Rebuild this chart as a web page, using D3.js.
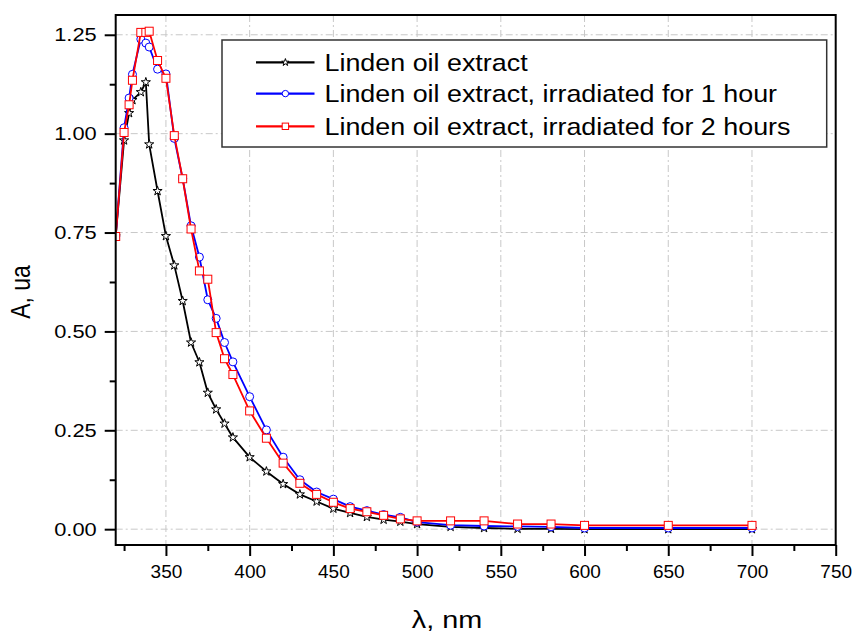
<!DOCTYPE html>
<html>
<head>
<meta charset="utf-8">
<script src="https://cdn.jsdelivr.net/npm/d3@7"></script>
<style>
  body { margin: 0; background: #fff; }
  svg { display: block; }
</style>
</head>
<body>
<div id="chart"></div>
<script>
// wavelengths (nm) measured for the three spectra
const wavelengths = [320, 325, 328, 330, 335, 338, 340, 345, 350, 355, 360, 365, 370, 375, 380, 385, 390,
    400, 410, 420, 430, 440, 450, 460, 470, 480, 490, 500, 520, 540, 560, 580, 600, 650, 700]

// absorbance of the plain extract
const absExtract = [0.74, 0.983, 1.052, 1.085, 1.105, 1.13, 0.973, 0.855, 0.741, 0.667, 0.577, 0.472, 0.422, 0.345, 0.303, 0.267, 0.232,
    0.182, 0.146, 0.114, 0.088, 0.070, 0.052, 0.041, 0.031, 0.024, 0.019, 0.013, 0.006, 0.003, 0.001, 0.001, 0.0, 0.0, 0.0]

// absorbance after 1 hour of irradiation
const absIrr1h = [0.74, 1.015, 1.09, 1.15, 1.239, 1.229, 1.219, 1.163, 1.151, 0.988, 0.886, 0.767, 0.688, 0.580, 0.533, 0.472, 0.423,
    0.335, 0.251, 0.182, 0.125, 0.094, 0.076, 0.057, 0.047, 0.037, 0.030, 0.018, 0.010, 0.008, 0.007, 0.006, 0.003, 0.003, 0.003]

// absorbance after 2 hours of irradiation
const absIrr2h = [0.74, 1.003, 1.073, 1.135, 1.256, 1.256, 1.259, 1.185, 1.140, 0.995, 0.886, 0.759, 0.653, 0.632, 0.497, 0.431, 0.391,
    0.299, 0.230, 0.167, 0.116, 0.088, 0.068, 0.052, 0.044, 0.035, 0.026, 0.021, 0.021, 0.021, 0.013, 0.013, 0.0096, 0.0096, 0.0096]

const seriesNames = ["Linden oil extract", "Linden oil extract, irradiated for 1 hour", "Linden oil extract, irradiated for 2 hours"]
const seriesColors = ["#000000", "#0000ff", "#ff0000"]
const seriesSymbols = ["star", "circle", "square"]

// tick values of both axes
const xTickValues = [350, 400, 450, 500, 550, 600, 650, 700, 750]
const xMinorTicks = [325, 375, 425, 475, 525, 575, 625, 675, 725]
const yTickValues = [0, 0.25, 0.5, 0.75, 1.0, 1.25]
const yMinorTicks = [0.125, 0.375, 0.625, 0.875, 1.125]

const width = 858, height = 635
const fontFam = "'Liberation Sans', Arial, Helvetica, sans-serif"

const svg = d3.select("#chart").append("svg")
    .attr("width", width)
    .attr("height", height)

// scales
const x = d3.scaleLinear().domain([320, 750]).range([115.7, 835.7])
const y = d3.scaleLinear().domain([-0.04, 1.30]).range([545, 15])

const plotLeft = x.range()[0], plotRight = x.range()[1]
const plotTop = y.range()[1], plotBottom = y.range()[0]

// clip path so markers on the edge are cut by the frame
svg.append("clipPath").attr("id", "plotClip")
    .append("rect")
    .attr("x", plotLeft).attr("y", plotTop)
    .attr("width", plotRight - plotLeft).attr("height", plotBottom - plotTop)

// dash-dot grid lines
const grid = svg.append("g").attr("class", "grid")
grid.selectAll("line.gx")
    .data(xTickValues.filter(function(d) { return d < 750 }))
    .enter().append("line")
        .attr("class", "gx")
        .attr("x1", function(d) { return x(d) }).attr("x2", function(d) { return x(d) })
        .attr("y1", plotTop).attr("y2", plotBottom)
grid.selectAll("line.gy")
    .data(yTickValues)
    .enter().append("line")
        .attr("class", "gy")
        .attr("x1", plotLeft).attr("x2", plotRight)
        .attr("y1", function(d) { return y(d) }).attr("y2", function(d) { return y(d) })
grid.selectAll("line")
    .attr("stroke", "#c8c8c8")
    .attr("stroke-width", 1)
    .attr("stroke-dasharray", "7,3,2,3")

// build one record per series
const series = [absExtract, absIrr1h, absIrr2h].map(function(vals, i) {
    return {
        name: seriesNames[i],
        color: seriesColors[i],
        symbol: seriesSymbols[i],
        points: wavelengths.map(function(w, j) { return { w: w, a: vals[j] } })
    }
})

// draw one marker of a given kind into a selection
function drawMarker(sel, kind, color, scale) {
    if (kind === "star") {
        sel.append("path")
            .attr("d", d3.symbol().type(d3.symbolStar).size(26 * scale * scale)())
            .attr("fill", "#fff").attr("stroke", color).attr("stroke-width", 1)
    } else if (kind === "circle") {
        sel.append("circle")
            .attr("r", 4 * scale)
            .attr("fill", "#fff").attr("stroke", color).attr("stroke-width", 1)
    } else {
        sel.append("rect")
            .attr("x", -4 * scale).attr("y", -4 * scale)
            .attr("width", 8 * scale).attr("height", 8 * scale)
            .attr("fill", "#fff").attr("stroke", color).attr("stroke-width", 1)
    }
}

const lineGen = d3.line()
    .x(function(d) { return x(d.w) })
    .y(function(d) { return y(d.a) })

const plot = svg.append("g").attr("clip-path", "url(#plotClip)")

series.forEach(function(s) {
    const g = plot.append("g")
    g.append("path")
        .datum(s.points)
        .attr("d", lineGen)
        .attr("fill", "none")
        .attr("stroke", s.color)
        .attr("stroke-width", 1.8)
        .attr("stroke-linejoin", "round")
    g.selectAll("g.mk")
        .data(s.points)
        .enter().append("g")
            .attr("class", "mk")
            .attr("transform", function(d) { return "translate(" + x(d.w) + "," + y(d.a) + ")" })
            .each(function() { drawMarker(d3.select(this), s.symbol, s.color, 1) })
})

// legend box
const legend = svg.append("g")
legend.append("rect")
    .attr("x", 222).attr("y", 40)
    .attr("width", 604.7).attr("height", 107)
    .attr("fill", "#fff")
    .attr("stroke", "#333")
    .attr("stroke-width", 1.5)

const legendRows = [62.4, 93.6, 126.3]
series.forEach(function(s, i) {
    const row = legend.append("g").attr("transform", "translate(0," + legendRows[i] + ")")
    row.append("line")
        .attr("x1", 256).attr("x2", 314.5)
        .attr("stroke", s.color).attr("stroke-width", 2.2)
    const mk = row.append("g").attr("transform", "translate(285.4,0)")
    drawMarker(mk, s.symbol, s.color, 0.8)
    row.append("text")
        .attr("transform", "translate(324.5,8.3) scale(1.12,1)")
        .style("font-family", fontFam)
        .style("font-size", "24px")
        .attr("fill", "#000")
        .text(s.name)
})

// frame around the plot
svg.append("rect")
    .attr("x", plotLeft).attr("y", plotTop)
    .attr("width", plotRight - plotLeft).attr("height", plotBottom - plotTop)
    .attr("fill", "none")
    .attr("stroke", "#000")
    .attr("stroke-width", 2)

// x axis: major ticks with labels, then minor ticks
svg.append("g")
    .attr("class", "x-axis")
    .attr("transform", "translate(0," + plotBottom + ")")
    .call(d3.axisBottom(x).tickValues(xTickValues).tickSize(11).tickPadding(9).tickFormat(d3.format("d")))
svg.append("g")
    .attr("transform", "translate(0," + plotBottom + ")")
    .call(d3.axisBottom(x).tickValues(xMinorTicks).tickSize(6).tickFormat(""))

// y axis: major ticks with labels, then minor ticks
svg.append("g")
    .attr("class", "y-axis")
    .attr("transform", "translate(" + plotLeft + ",0)")
    .call(d3.axisLeft(y).tickValues(yTickValues).tickSize(11).tickPadding(8).tickFormat(d3.format(".2f")))
svg.append("g")
    .attr("transform", "translate(" + plotLeft + ",0)")
    .call(d3.axisLeft(y).tickValues(yMinorTicks).tickSize(6).tickFormat(""))

svg.selectAll(".domain").remove()
svg.selectAll(".tick line").attr("stroke", "#000").attr("stroke-width", 2)
svg.selectAll(".tick text")
    .attr("fill", "#000")
    .style("font-family", fontFam)
    .style("font-size", "19px")

// y labels are a little wider in the original, stretch them horizontally
const yStretch = 1.15
svg.selectAll(".y-axis .tick text")
    .attr("x", -19 / yStretch)
    .attr("transform", "scale(" + yStretch + ",1)")

// axis titles
svg.append("text")
    .attr("transform", "translate(447,628) scale(1.2,1)")
    .attr("text-anchor", "middle")
    .style("font-family", fontFam)
    .style("font-size", "24px")
    .text("λ, nm")

svg.append("text")
    .attr("transform", "translate(30,292) rotate(-90) scale(1,1.2)")
    .attr("text-anchor", "middle")
    .style("font-family", fontFam)
    .style("font-size", "23px")
    .text("A, ua")
</script>
</body>
</html>
